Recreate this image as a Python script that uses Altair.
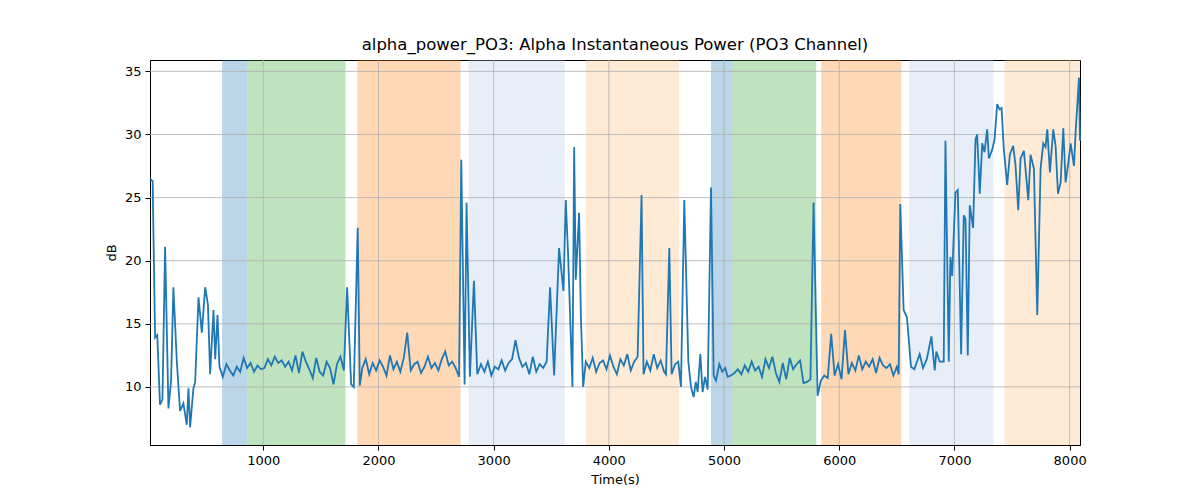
import altair as alt
import pandas as pd

# spiky start
seg0_t = [17, 40, 61, 80, 104, 125, 148, 177, 200, 220, 250, 278, 307, 336, 351, 365, 394, 409,
          438, 467, 496, 520, 539, 568, 583, 603, 620, 649]
seg0_v = [26.5, 26.3, 13.9, 14.1, 8.6, 9.0, 21.1, 8.3, 10.5, 17.9, 12.0, 8.1, 8.7, 7.0, 9.9, 6.8, 9.9, 10.4,
          17.1, 14.3, 17.9, 16.5, 11.0, 16.1, 12.2, 15.7, 11.6, 10.8]

# quiet stretches (start, step, values)
quiet = [
    (680, 30, [11.8, 11.3, 10.9, 11.6, 11.2, 12.3, 11.5, 11.9, 11.2, 11.7, 11.4, 11.5, 12.2, 11.7, 12.4,
               11.9, 12.1, 11.6, 12.0, 11.3, 12.5, 11.1, 12.8, 12.0, 11.4, 10.7, 12.3, 11.2, 10.9, 12.0,
               11.5, 10.2, 11.8, 12.4, 11.3]),
    (1860, 30, [11.5, 12.2, 11.0, 11.9, 11.3, 12.1, 11.6, 10.9, 12.5, 11.4, 12.0, 11.2, 12.3, 14.3, 11.3,
                11.8, 12.0, 11.1, 11.6, 12.4, 11.5, 11.9, 11.3, 12.2, 12.8, 11.7, 12.0, 11.5, 10.8]),
    (2890, 30, [11.8, 11.2, 12.0, 10.9, 11.6, 11.4, 12.1, 11.3, 11.9, 12.2, 13.7, 12.3, 11.6, 11.9, 11.0,
                12.4, 11.2, 11.8, 11.5, 12.0]),
    (3830, 30, [11.5, 12.3, 11.2, 11.9, 12.1, 11.4, 12.5, 11.6, 11.0, 12.2, 11.7, 12.6, 11.3, 12.0, 12.4]),
    (4330, 30, [12.0, 11.3, 12.6, 11.5, 12.1, 11.2]),
    (5060, 30, [10.9, 11.1, 11.4, 11.0, 11.7, 11.2, 12.0, 11.3, 11.6, 10.8, 12.2, 11.5, 12.4, 11.1, 10.4,
                11.9, 10.6, 12.3, 11.4, 11.8, 12.1, 10.3, 10.4, 10.6]),
    (5840, 30, [10.5, 10.9, 10.7, 14.2, 10.9, 11.8, 10.6, 14.5, 11.0, 11.9, 11.3, 12.5, 11.4, 12.0, 11.6,
                12.2, 11.1, 12.3, 11.7, 11.5, 11.8, 10.9, 11.6]),
]

# spikes between quiet stretches
spikes_t = [1728, 1763, 1786, 1820, 1838,
            2719, 2748, 2765, 2794, 2829, 2858,
            3490, 3525, 3568, 3606, 3626, 3646, 3684, 3699, 3713, 3742, 3757, 3777, 3800,
            4284, 4301,
            4496, 4525, 4545, 4575, 4603, 4626, 4655, 4690, 4713, 4736, 4755, 4771, 4794, 4814, 4835, 4858,
            4887, 4910, 4930, 4959, 4985, 5010, 5032,
            5777, 5812,
            6516, 6530, 6559, 6588, 6623, 6652, 6698, 6727, 6760, 6800, 6829, 6843, 6872, 6907, 6922, 6951,
            6965, 6980, 7009, 7029, 7058, 7081, 7096, 7116, 7133, 7162, 7183, 7197, 7220, 7241, 7261, 7284,
            7299, 7328, 7348, 7371, 7391, 7409, 7429, 7458, 7481, 7510, 7530, 7554, 7574, 7603, 7641, 7661,
            7690, 7719, 7748, 7771, 7791, 7806, 7829, 7858, 7878, 7899, 7922, 7945, 7965, 7986, 8009, 8038,
            8052, 8081, 8090]
spikes_v = [17.9, 10.2, 10.0, 22.6, 10.1,
            28.0, 10.2, 24.6, 10.8, 18.4, 11.0,
            17.9, 10.9, 21.0, 17.6, 24.8, 20.6, 10.0, 29.0, 18.5, 23.8, 15.7, 10.0, 12.0,
            25.2, 11.0,
            11.0, 21.0, 11.0, 11.8, 12.0, 10.0, 24.8, 12.0, 10.0, 9.2, 10.4, 9.6, 12.6, 9.6, 10.8, 9.8,
            25.8, 10.9, 10.5, 11.8, 11.2, 11.5, 10.8,
            24.6, 9.3,
            11.0, 24.5, 16.1, 15.5, 11.6, 11.4, 12.6, 11.5, 12.2, 14.0, 11.3, 12.8, 12.0, 12.0, 29.5, 12.0,
            20.3, 18.8, 25.4, 25.6, 12.6, 23.6, 23.3, 12.5, 24.4, 22.6, 29.6, 30.0, 25.3, 29.3, 28.6, 30.4,
            28.1, 28.8, 29.6, 32.4, 32.0, 32.1, 28.8, 26.0, 28.4, 29.1, 27.6, 24.0, 28.1, 28.7, 24.8, 28.4,
            27.3, 15.7, 27.3, 29.3, 29.0, 30.4, 27.0, 30.4, 29.1, 25.3, 26.2, 30.5, 26.2, 27.6, 29.3, 27.5,
            30.2, 34.5, 29.5]

band_start = [643, 861, 1817, 2783, 3800, 4887, 5070, 5843, 6609, 7435]
band_end = [861, 1713, 2713, 3617, 4609, 5070, 5800, 6539, 7339, 8090]
band_color = ["#1f77b4", "#2ca02c", "#ff7f0e", "#aec7e8", "#ffbb78",
              "#1f77b4", "#2ca02c", "#ff7f0e", "#aec7e8", "#ffbb78"]

x_ticks = [1000, 2000, 3000, 4000, 5000, 6000, 7000, 8000]
y_ticks = [10, 15, 20, 25, 30, 35]

rows = list(zip(seg0_t, seg0_v)) + list(zip(spikes_t, spikes_v))
for start, step, vals in quiet:
    rows += [(start + i * step, v) for i, v in enumerate(vals)]
df = pd.DataFrame(rows, columns=["t", "v"]).sort_values("t")
bands = pd.DataFrame({"s": band_start, "e": band_end, "c": band_color})

xs = alt.Scale(domain=[17, 8090], nice=False, zero=False)
ys = alt.Scale(domain=[5.4, 35.9], nice=False, zero=False)
font = "DejaVu Sans"

band_layer = alt.Chart(bands).mark_rect(opacity=0.3).encode(
    x=alt.X("s:Q", scale=xs), x2="e:Q", color=alt.Color("c:N", scale=None)
)
vgrid = alt.Chart(pd.DataFrame({"g": x_ticks})).mark_rule(color="#b0b0b0", strokeWidth=0.8).encode(
    x=alt.X("g:Q", scale=xs)
)
hgrid = alt.Chart(pd.DataFrame({"g": y_ticks})).mark_rule(color="#b0b0b0", strokeWidth=0.8).encode(
    y=alt.Y("g:Q", scale=ys)
)
line = alt.Chart(df).mark_line(color="#1f77b4", strokeWidth=1.8).encode(
    x=alt.X("t:Q", scale=xs, title="Time(s)",
            axis=alt.Axis(values=x_ticks, grid=False, format="d")),
    y=alt.Y("v:Q", scale=ys, title="dB",
            axis=alt.Axis(values=y_ticks, grid=False)),
)

chart = alt.layer(band_layer, vgrid, hgrid, line).properties(
    width=930, height=385,
    title=alt.Title("alpha_power_PO3: Alpha Instantaneous Power (PO3 Channel)",
                    font=font, fontSize=16.5, fontWeight="normal", offset=6),
    autosize=alt.AutoSizeParams(type="none"),
    padding={"left": 142, "top": 52, "right": 112, "bottom": 47},
).configure_view(stroke="black", strokeWidth=1).configure_axis(
    labelFont=font, titleFont=font, labelFontSize=13, titleFontSize=13,
    titleFontWeight="normal", labelColor="black", titleColor="black",
    domainColor="black", tickColor="black", tickSize=5, labelPadding=4, titlePadding=6,
)

chart.save("out.html", embed_options={"renderer": "svg", "actions": False})
